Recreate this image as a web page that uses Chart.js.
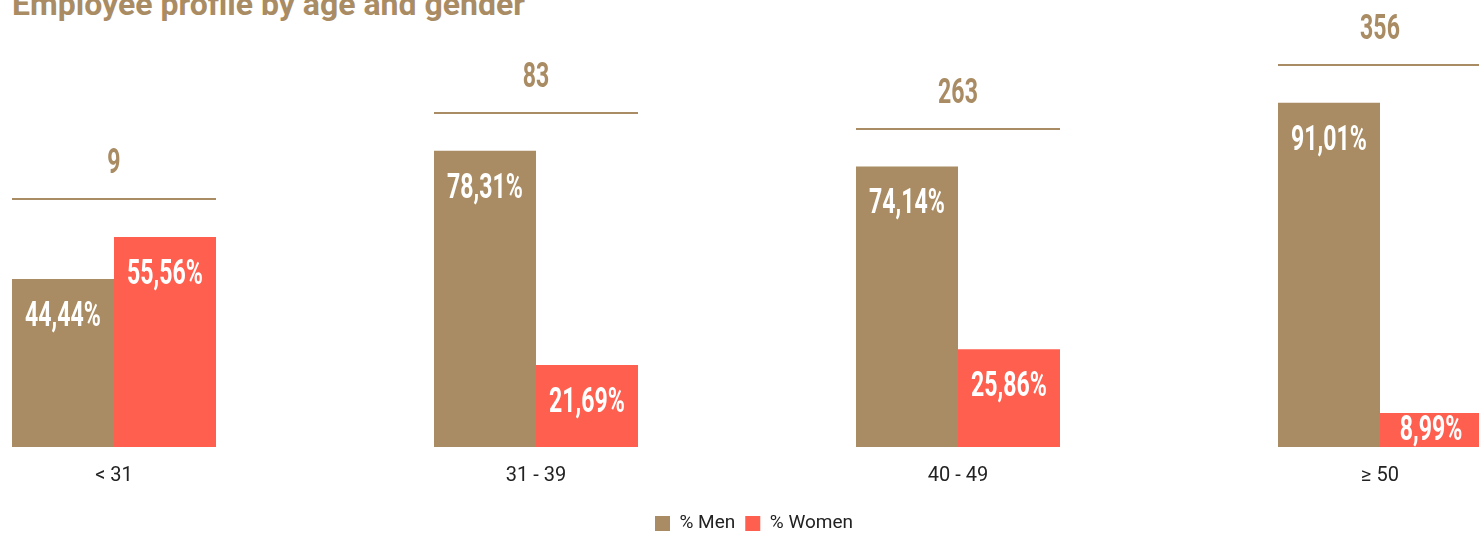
<!DOCTYPE html>
<html>
<head>
<meta charset="utf-8">
<title>Employee profile by age and gender</title>
<script src="https://cdn.jsdelivr.net/npm/chart.js@4/dist/chart.umd.min.js"></script>
<style>
  html, body { margin: 0; padding: 0; background: #fff; overflow: hidden; width: 1479px; height: 534px; }
  h2 {
    position: absolute; left: 12px; top: -12px; margin: 0;
    font: 700 32px/32px Roboto, "Open Sans", sans-serif; color: #a98c63; white-space: nowrap;
  }
  #wrap { position: absolute; left: -97px; top: 0; width: 1702px; height: 543px; }
</style>
</head>
<body>
<h2>Employee profile by age and gender</h2>
<div id="wrap"><canvas id="chart"></canvas></div>
<script>
const categories = ['< 31', '31 - 39', '40 - 49', '≥ 50'];
const menPct = [44.44, 78.31, 74.14, 91.01];
const womenPct = [55.56, 21.69, 25.86, 8.99];
const totals = [9, 83, 263, 356];

const GOLD = '#a98c63';
const CORAL = '#ff5f4f';

// 44.44 -> "44,44%"
const fmtPct = v => v.toFixed(2).replace('.', ',') + '%';

// condensed bold text: Roboto squeezed horizontally
function drawCondensed(ctx, text, x, y, color) {
  ctx.save();
  ctx.font = '700 35px Roboto, sans-serif';
  ctx.fillStyle = color;
  ctx.textAlign = 'center';
  ctx.textBaseline = 'middle';
  ctx.translate(x, y);
  ctx.scale(0.66, 1);
  ctx.fillText(text, 0, 0);
  ctx.restore();
}

// values inside the bars, plus the group total with its rule above each pair
const barLabels = {
  id: 'barLabels',
  afterDatasetsDraw(chart) {
    const ctx = chart.ctx;
    const y = chart.scales.y;
    const men = chart.getDatasetMeta(0).data;
    const women = chart.getDatasetMeta(1).data;
    [men, women].forEach((bars, d) => {
      const vals = d === 0 ? menPct : womenPct;
      bars.forEach((bar, i) => {
        const cy = Math.min(bar.y + 38, bar.base - 16);
        drawCondensed(ctx, fmtPct(vals[i]), bar.x, cy, '#fff');
      });
    });
    categories.forEach((c, i) => {
      const left = men[i].x - men[i].width / 2;
      const right = women[i].x + women[i].width / 2;
      const ly = Math.round(y.getPixelForValue(Math.max(menPct[i], womenPct[i]) + 10));
      ctx.save();
      ctx.strokeStyle = GOLD;
      ctx.lineWidth = 2;
      ctx.beginPath();
      ctx.moveTo(left, ly);
      ctx.lineTo(right, ly);
      ctx.stroke();
      ctx.restore();
      drawCondensed(ctx, String(totals[i]), (left + right) / 2, ly - 35, GOLD);
    });
  }
};

new Chart(document.getElementById('chart'), {
  type: 'bar',
  data: {
    labels: categories,
    datasets: [
      { label: '% Men', data: menPct, backgroundColor: GOLD, borderWidth: 0 },
      { label: '% Women', data: womenPct, backgroundColor: CORAL, borderWidth: 0 }
    ]
  },
  options: {
    responsive: true,
    maintainAspectRatio: false,
    animation: false,
    events: [],
    categoryPercentage: 0.4834,
    barPercentage: 1,
    layout: { padding: { top: 31, left: 0, right: 0, bottom: 0 } },
    plugins: {
      tooltip: { enabled: false },
      legend: {
        position: 'bottom',
        labels: { color: '#222', font: { family: 'Roboto', size: 19 }, boxWidth: 15, boxHeight: 15, padding: 10 }
      }
    },
    scales: {
      x: {
        grid: { display: false },
        border: { display: false },
        ticks: { color: '#222', font: { family: 'Roboto', size: 20 }, padding: 9 },
        afterFit: s => { s.height = 57; }
      },
      y: {
        position: 'right',
        min: 0, max: 110,
        grid: { display: false },
        border: { display: false },
        ticks: { display: false },
        afterFit: s => { s.width = 14; }
      }
    }
  },
  plugins: [barLabels]
});
</script>
</body>
</html>
